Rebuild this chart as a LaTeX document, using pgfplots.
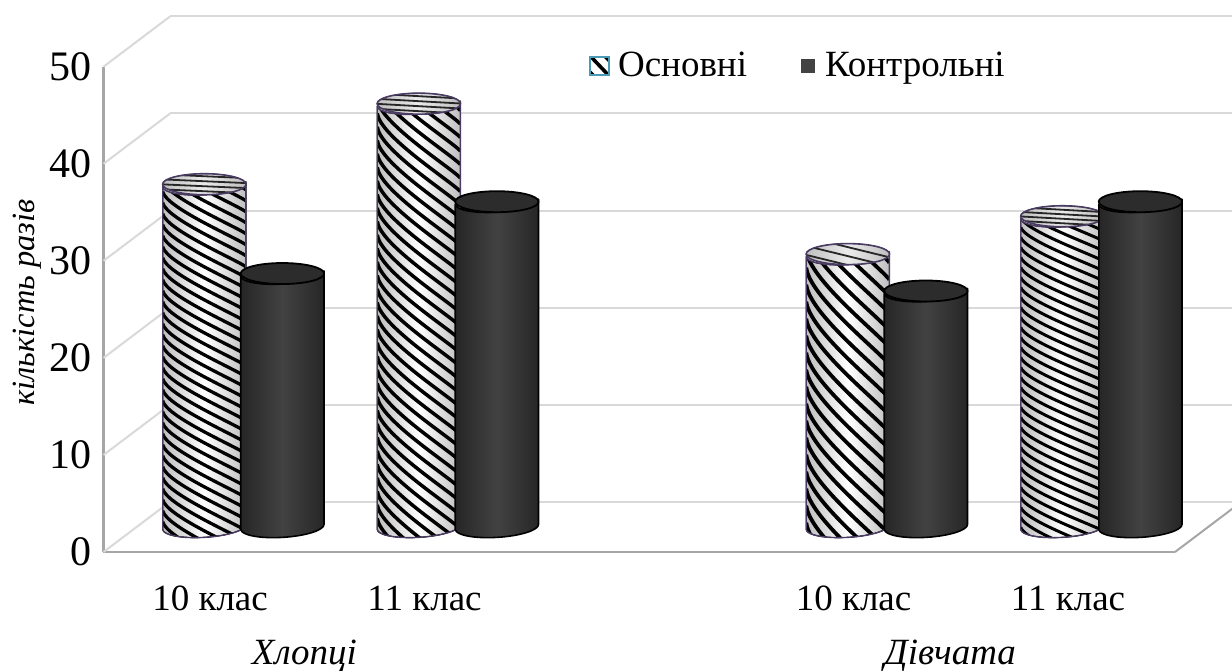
\documentclass[border=0pt]{standalone}
\usepackage{pgfplots}
\pgfplotsset{compat=1.18}
\usepackage{pgfplotstable}
\usepackage{fontspec}
\setmainfont{Liberation Serif}
\definecolor{wallgrid}{HTML}{D9D9D9}
\definecolor{frontax}{HTML}{A6A6A6}
\definecolor{rimc}{HTML}{4A3B63}
\definecolor{darkc}{HTML}{262626}
\definecolor{darkt}{HTML}{2C2C2C}
\definecolor{darkm}{HTML}{424242}
\definecolor{edgeg}{HTML}{BEBEBE}
\definecolor{legb}{HTML}{4A9AB5}
\newcommand{\lblfont}{\fontsize{18.5pt}{22pt}\selectfont}
\newcommand{\ytfont}{\fontsize{21pt}{24pt}\selectfont}
\newcommand{\ylfont}{\fontsize{16.2pt}{19pt}\selectfont\itshape}
% silhouette of a cylinder of height \hpx, top centre at the origin
\newcommand{\cylsil}{(-41.6,-2.55) -- (-41.6,{-\hpx-2.55})
  .. controls (-41.25,{-\hpx-8.34}) and (-22.36,{-\hpx-11.89}) .. (0.64,{-\hpx-10.48})
  .. controls (23.64,{-\hpx-9.07}) and (41.95,{-\hpx-3.24}) .. (41.6,{-\hpx+2.55})
  -- (41.6,2.55)
  .. controls (41.95,-3.24) and (23.64,-9.07) .. (0.64,-10.48)
  .. controls (-22.36,-11.89) and (-41.25,-8.34) .. (-41.6,-2.55) -- cycle}

\pgfdeclareplotmark{cylO}{%
  \begin{scope}[x=0.5pt,y=0.5pt,line join=round]
    \pgfmathsetmacro{\hpx}{\cv*9.706}
    \path[left color=edgeg,right color=edgeg,middle color=white] \cylsil;
    \begin{scope}
      \clip \cylsil;
      \pgfmathsetmacro{\nst}{int((\hpx+2*\cdr)/\csp)+2}
      \foreach \k in {0,...,\nst}{
        \pgfmathsetmacro{\yy}{\cdr-\k*\csp+0.5*\csp}
        \draw[black,line width=\clw*0.5pt]
          (-41.6,\yy) .. controls (-38,{\yy-0.3*\cdr}) and (30,{\yy-0.85*\cdr}) .. (41.6,{\yy-\cdr});
      }
    \end{scope}
    \draw[rimc,line width=0.7pt] \cylsil;
    \begin{scope}[rotate=3.5]
      \clip (0,0) ellipse[x radius=41.7,y radius=10.5];
      \shade[left color=edgeg,right color=edgeg,middle color=white!92!black] (-42,-11) rectangle (42,11);
      \foreach \k in {-4,...,4}{
        \draw[black!85,line width=0.9pt] (-45,{\k*\cts}) -- (45,{\k*\cts-\ctd});
      }
    \end{scope}
    \draw[rimc,line width=0.8pt,rotate=3.5] (0,0) ellipse[x radius=41.7,y radius=10.5];
  \end{scope}
}
\pgfdeclareplotmark{cylC}{%
  \begin{scope}[x=0.5pt,y=0.5pt,line join=round]
    \pgfmathsetmacro{\hpx}{\cv*9.706}
    \path[left color=darkc,right color=darkc,middle color=darkm,draw=black,line width=0.8pt] \cylsil;
    \draw[black,line width=0.9pt,fill=darkt,rotate=3.5] (0,0) ellipse[x radius=41.7,y radius=10.5];
  \end{scope}
}

\begin{document}
\begin{tikzpicture}
\useasboundingbox (0,0) rectangle (616pt,335pt);
\clip (0,0) rectangle (616pt,335pt);
\begin{axis}[
  at={(51.75pt,59pt)},anchor=south west,
  scale only axis,width=535.75pt,height=242.65pt,
  xmin=-0.4967,xmax=4.4986,ymin=0,ymax=50,
  clip=false,
  axis x line=bottom,axis y line=left,
  axis line style={-,frontax,line width=1.1pt},
  tick style={draw=none},
  xtick={0,1,3,4},
  xticklabels={10 клас,11 клас,10 клас,11 клас},
  ytick={0,10,20,30,40,50},
  /pgf/number format/assume math mode=true,
  xticklabel style={font=\lblfont,yshift=-11.5pt},
  yticklabel style={font=\ytfont,xshift=-0.5pt},
  ylabel={кількість разів},
  ylabel style={font=\ylfont,yshift=-3pt,xshift=3.5pt},
]
\addplot[wallgrid,line width=1pt] coordinates {(-0.4967,0) (-0.1861,5.182)};
\addplot[wallgrid,line width=1pt] coordinates {(-0.4967,10) (-0.1861,15.182)};
\addplot[wallgrid,line width=1pt] coordinates {(-0.4967,20) (-0.1861,25.182)};
\addplot[wallgrid,line width=1pt] coordinates {(-0.4967,30) (-0.1861,35.182)};
\addplot[wallgrid,line width=1pt] coordinates {(-0.4967,40) (-0.1861,45.182)};
\addplot[wallgrid,line width=1pt] coordinates {(-0.4967,50) (-0.1861,55.182)};
\addplot[wallgrid,line width=1pt] coordinates {(-0.1861,5.182) (4.8092,5.182)};
\addplot[wallgrid,line width=1pt] coordinates {(-0.1861,15.182) (4.8092,15.182)};
\addplot[wallgrid,line width=1pt] coordinates {(-0.1861,25.182) (4.8092,25.182)};
\addplot[wallgrid,line width=1pt] coordinates {(-0.1861,35.182) (4.8092,35.182)};
\addplot[wallgrid,line width=1pt] coordinates {(-0.1861,45.182) (4.8092,45.182)};
\addplot[wallgrid,line width=1pt] coordinates {(-0.1861,55.182) (4.8092,55.182)};
\addplot[frontax,line width=1pt] coordinates {(4.4986,0) (4.8092,5.182)};
\node[font=\lblfont\itshape,anchor=base,inner sep=0pt] at (axis cs:0.44,-11.55) {Хлопці};
\node[font=\lblfont\itshape,anchor=base,inner sep=0pt] at (axis cs:3.45,-11.55) {Дівчата};
\end{axis}
\begin{axis}[
  at={(68.4pt,71.575pt)},anchor=south west,
  scale only axis,width=535.75pt,height=242.65pt,
  xmin=-0.4967,xmax=4.4986,ymin=0,ymax=50,
  clip=false,hide axis,
  legend style={draw=none,fill=none,at={(axis cs:2.59,47.5)},anchor=center,
    font=\lblfont,legend columns=2,/tikz/every even column/.append style={column sep=25pt}},
  scatter/@pre marker code/.code={},
  scatter/@post marker code/.code={},
]
\addplot[ybar,bar width=38pt,bar shift=0pt,draw=none,fill=white,forget plot] coordinates {(-0.182,35.3) (0.818,43.6) (2.818,28.1) (3.818,32.0)};
\addplot[scatter,only marks,mark=cylO,forget plot,
  visualization depends on={\thisrow{y} \as \cv},
  visualization depends on={\thisrow{sp} \as \csp},
  visualization depends on={\thisrow{dr} \as \cdr},
  visualization depends on={\thisrow{lw} \as \clw},
  visualization depends on={\thisrow{ts} \as \cts},
  visualization depends on={\thisrow{td} \as \ctd},
] table[x=x,y=y] {
x      y     sp   dr   lw  ts  td
-0.182 35.3  11   53   3.3 5   4
0.818  43.6  13.5 78   3.5 5   5
2.818  28.1  17   97   3.8 9   22
3.818  32.0  10   44   3.0 4.5 5
};
\addplot[ybar,bar width=38pt,bar shift=0pt,draw=none,fill=darkc,forget plot] coordinates {(0.182,26.1) (1.182,33.5) (3.182,24.3) (4.182,33.5)};
\addplot[scatter,only marks,mark=cylC,forget plot,
  visualization depends on={\thisrow{y} \as \cv},
] table[x=x,y=y] {
x      y
0.182  26.1
1.182  33.5
3.182  24.3
4.182  33.5
};
\addlegendimage{legend image code/.code={
  \path[draw=none,fill=none] (0pt,-4.5pt) rectangle (12pt,4.5pt);
  \begin{scope}
  \clip (0pt,-4.5pt) rectangle (9.5pt,4.5pt);
  \draw[black,line width=1.8pt] (0pt,5pt) -- (9.5pt,-5pt);
  \draw[black,line width=1.5pt] (-2pt,-1pt) -- (4pt,-7pt);
  \draw[black,line width=1.5pt] (5pt,7pt) -- (11pt,1pt);
  \end{scope}
  \draw[legb,line width=1pt,fill=none] (0pt,-4.5pt) rectangle (9.5pt,4.5pt);
}}
\addlegendentry{Основні}
\addlegendimage{legend image code/.code={
  \path[draw=none,fill=none] (0pt,-4.5pt) rectangle (10pt,4.5pt);
  \path[draw=none,fill=darkm] (0pt,-3.5pt) rectangle (7pt,3.5pt);
}}
\addlegendentry{Контрольні}
\end{axis}
\end{tikzpicture}
\end{document}
